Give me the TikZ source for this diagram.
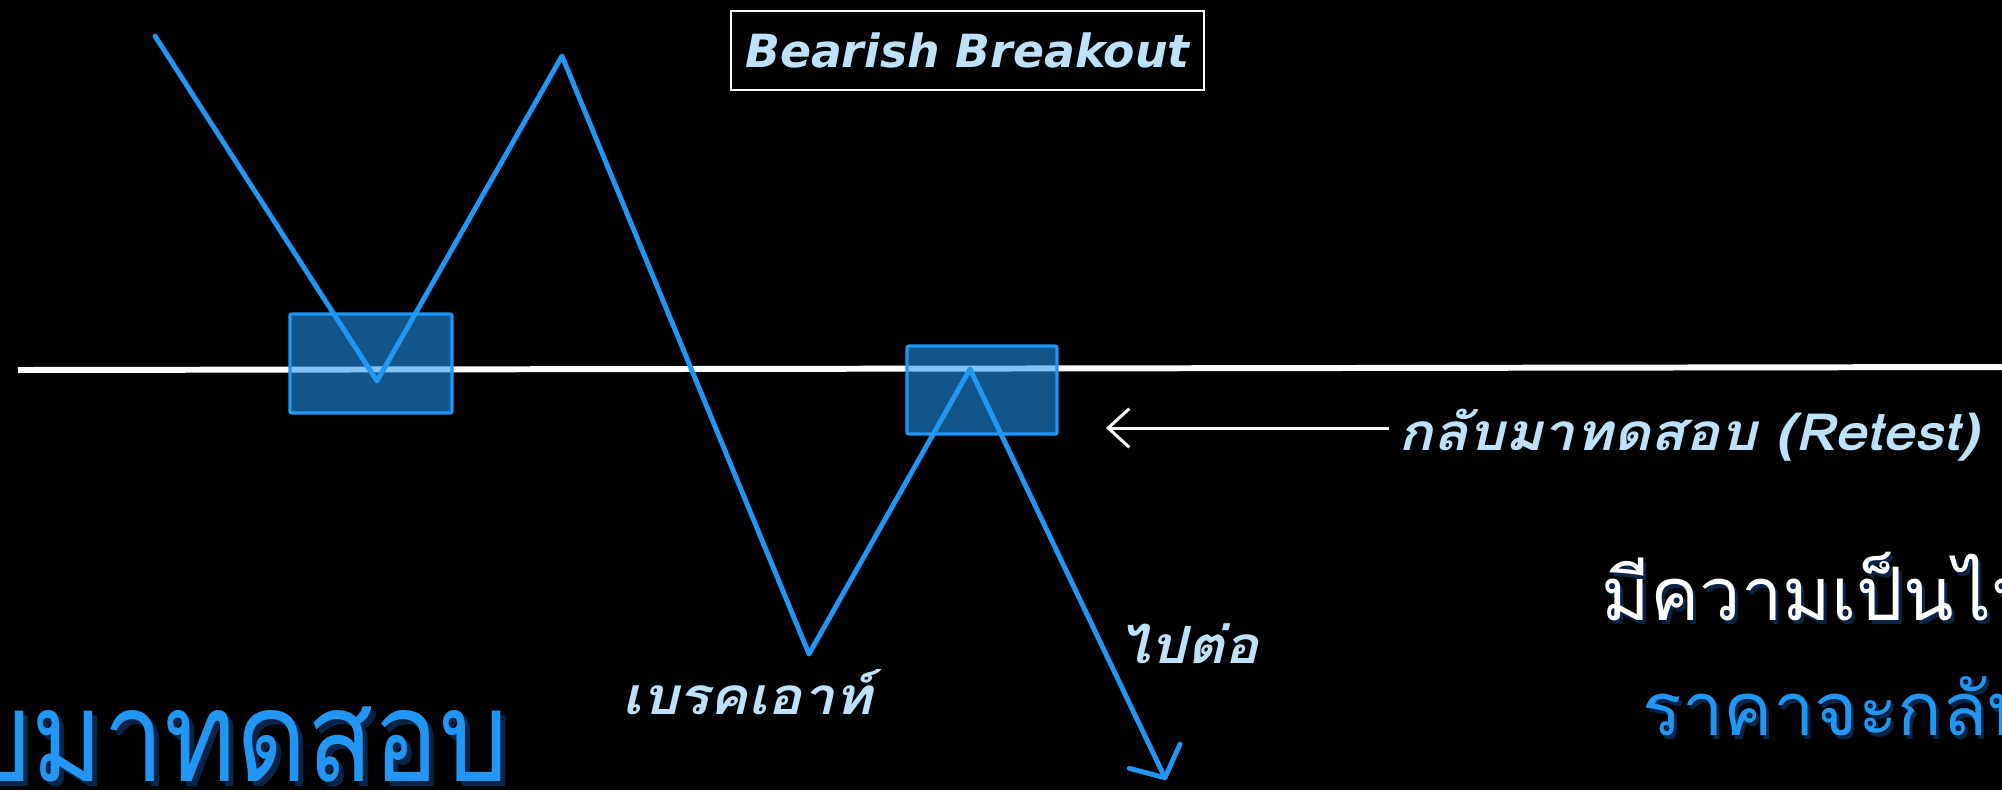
\documentclass[tikz,border=0pt]{standalone}
\usepackage{fontspec}
\usetikzlibrary{arrows.meta}
\newfontfamily\thaifont[Script=Thai]{Loma}
\newfontfamily\thailbl[Script=Thai, FakeStretch=1.12]{Loma}
\newfontfamily\thainarrow[Script=Thai, FakeStretch=0.86]{Loma}
\newfontfamily\dvsans{DejaVu Sans}
\definecolor{lineblue}{RGB}{33,150,243}
\definecolor{lightblue}{RGB}{190,226,252}
\definecolor{shadownavy}{RGB}{10,36,72}
\begin{document}
\begin{tikzpicture}[x=0.01cm,y=-0.01cm,
  price/.style={draw=lineblue, line width=1.4pt, line join=round, line cap=round},
  zone/.style={draw=lineblue, line width=0.95pt, fill=lineblue, fill opacity=0.57, rounded corners=0.6pt, inner sep=0pt},
  level/.style={draw=white, line width=1.7pt},
  lbl/.style={font=\thailbl\bfseries\itshape\fontsize{14.6}{18}\selectfont, text=lightblue, inner sep=0pt},
  bigr/.style={font=\thaifont\fontsize{21}{25}\selectfont, inner sep=0pt},
  bigl/.style={font=\thainarrow\fontsize{36}{42}\selectfont, inner sep=0pt}
]
\path[use as bounding box, fill=black] (0,0) rectangle (2002,790);
\begin{scope}
\clip (0,0) rectangle (2002,790);
% support / resistance level
\coordinate (L1) at (18,370);
\coordinate (L2) at (2002,367);
\draw[level] (L1) -- (L2);
% zones
\node[zone, minimum width=1.62cm, minimum height=0.99cm] (box1) at (371,363.5) {};
\node[zone, minimum width=1.50cm, minimum height=0.88cm] (box2) at (982,390) {};
% price path
\coordinate (p0) at (155,36);
\coordinate (p1) at (377,381);
\coordinate (p2) at (562,56);
\coordinate (p3) at (809,654);
\coordinate (p4) at (970,369);
\coordinate (p5) at (1166,780);
\draw[price, -{Straight Barb[length=6.8pt,width=16pt,round]}] (p0) -- (p1) -- (p2) -- (p3) -- (p4) -- (p5);
% title
\node[draw=white, line width=0.75pt, minimum width=4.73cm, minimum height=0.79cm, inner sep=0pt,
      font=\dvsans\bfseries\itshape\fontsize{13}{15}\selectfont, text=lightblue] (title) at (967.5,50.5) {Bearish Breakout};
% retest arrow and label
\node[lbl, anchor=base west] (retest) at (1398,450) {กลับมาทดสอบ (Retest)};
\coordinate (rtS) at (1389,428);
\coordinate (rtE) at (1106,428);
\draw[white, line width=0.85pt, -{Straight Barb[length=6pt,width=11pt]}] (rtS) -- (rtE);
% labels
\node[lbl, anchor=base west] (breakout) at (622,714) {เบรคเอาท์};
\node[lbl, anchor=base west] (cont) at (1118,663) {ไปต่อ};
% big text right
\node[bigr, anchor=base west, text=shadownavy] (m1s) at (1604,624) {มีความเป็นไป};
\node[bigr, anchor=base west, text=white] (m1) at (1601,620) {มีความเป็นไป};
\node[bigr, anchor=base west, text=shadownavy] (m2s) at (1645,739) {ราคาจะกลับ};
\node[bigr, anchor=base west, text=lineblue] (m2) at (1642,735) {ราคาจะกลับ};
% big text bottom left
\node[bigl, anchor=base east, text=shadownavy] (bls) at (514,786) {กลับมาทดสอบ};
\node[bigl, anchor=base east, text=lineblue] (bl) at (509,781) {กลับมาทดสอบ};
\end{scope}
\end{tikzpicture}
\end{document}
